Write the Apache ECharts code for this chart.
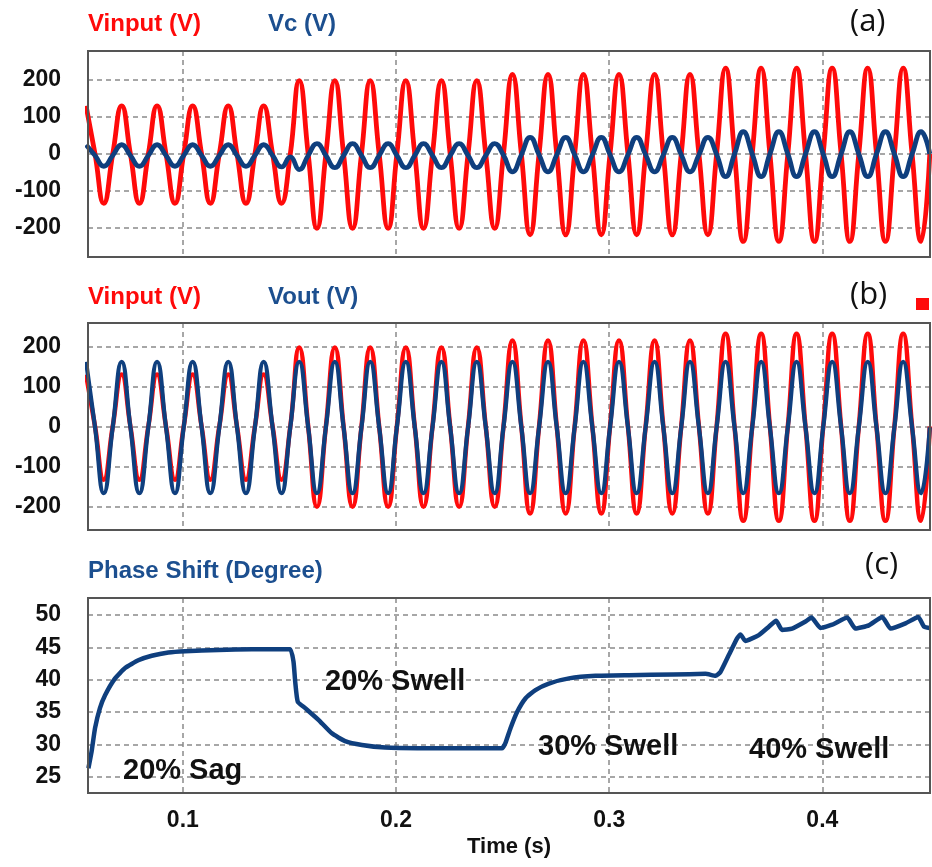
<!DOCTYPE html>
<html><head><meta charset="utf-8">
<script src="https://cdn.jsdelivr.net/npm/echarts@6/dist/echarts.min.js"></script>
<style>html,body{margin:0;padding:0;background:#fff}#c{width:932px;height:867px}</style>
</head><body><div id="c"></div>
<script>
// Sample instants: every peak, trough and zero crossing (s)
const sampleTime = [
0.0546,0.0588,0.0629,0.0671,0.0713,0.0754,0.0796,0.0838,0.0879,0.0921,0.0963,0.1004,
0.1046,0.1088,0.1129,0.1171,0.1213,0.1254,0.1296,0.1338,0.1379,0.1421,0.1463,0.1504,
0.1546,0.1588,0.1629,0.1671,0.1713,0.1754,0.1796,0.1838,0.1879,0.1921,0.1963,0.2004,
0.2046,0.2088,0.2129,0.2171,0.2213,0.2254,0.2296,0.2338,0.2379,0.2421,0.2463,0.2504,
0.2546,0.2588,0.2629,0.2671,0.2713,0.2754,0.2796,0.2838,0.2879,0.2921,0.2963,0.3004,
0.3046,0.3088,0.3129,0.3171,0.3213,0.3254,0.3296,0.3338,0.3379,0.3421,0.3463,0.3504,
0.3546,0.3588,0.3629,0.3671,0.3713,0.3754,0.3796,0.3838,0.3879,0.3921,0.3963,0.4004,
0.4046,0.4088,0.4129,0.4171,0.4213,0.4254,0.4296,0.4338,0.4379,0.4421,0.4463,0.4504];

// Vinput (V) at those instants
const vinput = [
130,0,-133,0,130,0,-133,0,130,0,-133,0,
130,0,-133,0,130,0,-133,0,130,0,-133,0,
198,0,-201,0,198,0,-201,0,198,0,-201,0,
198,0,-201,0,198,0,-201,0,198,0,-201,0,
215,0,-218,0,215,0,-218,0,215,0,-218,0,
215,0,-218,0,215,0,-218,0,215,0,-218,0,
232,0,-236,0,232,0,-236,0,232,0,-236,0,
232,0,-236,0,232,0,-236,0,232,0,-236,0];

// Vc (V)
const vc = [
25,-4,-33,-4,25,-4,-33,-4,25,-4,-33,-4,
25,-4,-33,-4,25,-4,-33,-4,25,-4,-35,-8,
-42,-4,28,-4,-37,-4,28,-4,-37,-4,28,-4,
-37,-4,28,-4,-37,-4,28,-4,-37,-4,28,-3,
-48,-2,45,-2,-48,-2,45,-2,-48,-2,45,-2,
-48,-2,45,-2,-48,-2,45,-2,-48,-2,45,-1,
-61,0,60,0,-61,0,60,0,-61,0,60,0,
-61,0,60,0,-61,0,60,0,-61,0,60,0];

// Vout (V)
const vout = [
162,-2,-167,-2,162,-2,-167,-2,162,-2,-167,-2,
162,-2,-167,-2,162,-2,-167,-2,162,-2,-167,-2,
162,-2,-167,-2,162,-2,-167,-2,162,-2,-167,-2,
162,-2,-167,-2,162,-2,-167,-2,162,-2,-167,-2,
162,-2,-167,-2,162,-2,-167,-2,162,-2,-167,-2,
162,-2,-167,-2,162,-2,-167,-2,162,-2,-167,-2,
162,-2,-167,-2,162,-2,-167,-2,162,-2,-167,-2,
162,-2,-167,-2,162,-2,-167,-2,162,-2,-167,-2];

// Phase shift (degree)
const phaseTime = [
0.0557,0.0572,0.0588,0.0611,0.0635,0.0682,0.0729,0.0791,0.0854,0.0932,0.1010,0.1167,
0.1324,0.1503,0.1519,0.1527,0.1539,0.1574,0.1636,0.1699,0.1761,0.1840,0.1949,0.2100,
0.2300,0.2497,0.2513,0.2537,0.2568,0.2607,0.2654,0.2717,0.2811,0.2936,0.3092,0.3300,
0.3452,0.3499,0.3522,0.3561,0.3600,0.3616,0.3639,0.3702,0.3749,0.3783,0.3811,0.3858,
0.3921,0.3949,0.3991,0.4046,0.4117,0.4155,0.4218,0.4281,0.4320,0.4390,0.4450,0.4477,0.4503];
const phaseValue = [
26.3,28.9,32.5,35.6,37.6,40.2,41.8,43.0,43.7,44.2,44.4,44.6,
44.7,44.7,42.8,39.7,36.6,35.6,33.8,31.7,30.5,29.9,29.5,29.4,
29.4,29.4,30.2,32.5,35.0,37.1,38.4,39.4,40.2,40.6,40.7,40.8,
40.9,40.6,41.2,43.8,46.4,47.0,46.0,46.9,48.2,49.1,47.7,47.9,
49.0,49.6,48.0,48.5,49.6,47.9,48.4,49.7,47.9,48.7,49.7,48.2,48.0];

const panelTitles = [["Vinput (V)","Vc (V)"],["Vinput (V)","Vout (V)"],["Phase Shift (Degree)"]];
const panelTags = ["(a)","(b)","(c)"];
const annotations = ["20% Sag","20% Swell","30% Swell","40% Swell"];
const xLabelName = "Time (s)";

const RED = '#ff0a0a', NAVY = '#0f3f7e', TNAVY = '#1c4f8f';
const FONT = '"Liberation Sans", Arial, sans-serif';
const pair = (xs, ys) => xs.map((t, i) => [t, ys[i]]);

const grids = [
  {left: 88, top: 51, width: 842, height: 206},
  {left: 88, top: 323, width: 842, height: 207},
  {left: 88, top: 598, width: 842, height: 195}
].map(g => Object.assign(g, {show: true, borderColor: '#555', borderWidth: 2, backgroundColor: 'transparent', z: 5}));

const yRanges = [[-278, 278], [-259, 259], [22.48, 52.63]];
const splitStyle = {show: true, showMinLine: false, showMaxLine: false,
  lineStyle: {color: '#8a8a8a', width: 1.5, type: [5, 4]}};

const xAxes = [0, 1, 2].map(i => ({
  type: 'value', gridIndex: i, min: 0.0555, max: 0.4505,
  axisLine: {show: false}, axisTick: {show: false},
  axisLabel: {show: i === 2, showMinLabel: false, showMaxLabel: false, margin: 16,
    fontFamily: FONT, fontWeight: 'bold', fontSize: 23, color: '#111'},
  splitLine: splitStyle,
  name: i === 2 ? xLabelName : '', nameLocation: 'middle', nameGap: 43,
  nameTextStyle: {fontFamily: FONT, fontWeight: 'bold', fontSize: 22, color: '#111'}
}));
const yAxes = [0, 1, 2].map(i => ({
  type: 'value', gridIndex: i, min: yRanges[i][0], max: yRanges[i][1],
  axisLine: {show: false}, axisTick: {show: false},
  axisLabel: {showMinLabel: false, showMaxLabel: false, margin: 27,
    fontFamily: FONT, fontWeight: 'bold', fontSize: 23, color: '#111'},
  splitLine: splitStyle
}));

function line(name, xi, data, color, width, smooth) {
  return {name, type: 'line', xAxisIndex: xi, yAxisIndex: xi, data, smooth,
    showSymbol: false, clip: true, z: 3,
    lineStyle: {color, width, join: 'round'}, itemStyle: {color}};
}

const series = [
  line('Vinput (V)', 0, pair(sampleTime, vinput), RED, 4.8, 0.5),
  line('Vc (V)', 0, pair(sampleTime, vc), NAVY, 4.8, 0.5),
  line('Vinput (V)', 1, pair(sampleTime, vinput), RED, 4.5, 0.5),
  line('Vout (V)', 1, pair(sampleTime, vout), NAVY, 4.2, 0.5),
  line('Phase Shift (Degree)', 2, pair(phaseTime, phaseValue), NAVY, 4.5, 0.15)
];

const tTitle = (text, x, y, color) => ({type: 'text', x, y, z: 20,
  style: {text, fill: color, font: 'bold 24px ' + FONT, align: 'left', verticalAlign: 'middle'}});
const tTag = (text, x, y) => ({type: 'text', x, y, z: 20,
  style: {text, fill: '#111', font: '31px "Open Sans", "Noto Sans", sans-serif', align: 'left', verticalAlign: 'middle'}});
const tAnn = (text, x, y) => ({type: 'text', x, y, z: 20,
  style: {text, fill: '#111', font: 'bold 29px ' + FONT, align: 'left', verticalAlign: 'middle'}});

const graphic = [
  tTitle(panelTitles[0][0], 88, 24, RED), tTitle(panelTitles[0][1], 268, 24, TNAVY),
  tTitle(panelTitles[1][0], 88, 297, RED), tTitle(panelTitles[1][1], 268, 297, TNAVY),
  tTitle(panelTitles[2][0], 88, 571, TNAVY),
  tTag(panelTags[0], 850, 22), tTag(panelTags[1], 850, 295), tTag(panelTags[2], 865, 565),
  {type: 'rect', x: 916, y: 298, z: 20, shape: {width: 13, height: 12}, style: {fill: RED}},
  tAnn(annotations[0], 123, 771), tAnn(annotations[1], 325, 682),
  tAnn(annotations[2], 538, 747), tAnn(annotations[3], 749, 750)
];

const chart = echarts.init(document.getElementById('c'), null, {renderer: 'canvas'});
chart.setOption({
  animation: false, backgroundColor: '#fff',
  grid: grids, xAxis: xAxes, yAxis: yAxes, series, graphic
});
</script></body></html>
